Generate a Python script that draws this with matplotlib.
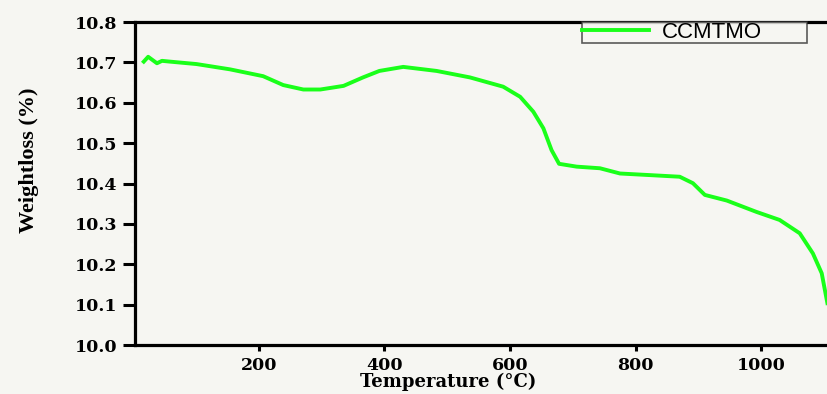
import matplotlib
matplotlib.use('Agg')
import matplotlib.pyplot as plt

# data
temperature = [17, 24, 38, 46, 59, 101, 154, 207, 239, 271, 298, 335, 366, 392,
               430, 483, 536, 589, 616, 637, 653, 666, 678, 706, 743, 775, 823,
               870, 891, 910, 945, 992, 1029, 1061, 1082, 1096, 1105]
weight = [10.702, 10.714, 10.698, 10.704, 10.702, 10.696, 10.683, 10.666, 10.644,
          10.633, 10.633, 10.642, 10.663, 10.679, 10.689, 10.679, 10.663, 10.640,
          10.615, 10.578, 10.537, 10.483, 10.449, 10.442, 10.438, 10.425, 10.421,
          10.417, 10.401, 10.372, 10.358, 10.330, 10.310, 10.277, 10.227, 10.178,
          10.104]
series_name = 'CCMTMO'
xticks = [200, 400, 600, 800, 1000]
yticks = [10.0, 10.1, 10.2, 10.3, 10.4, 10.5, 10.6, 10.7, 10.8]

bg = '#f6f6f2'
fig = plt.figure(figsize=(8.28, 3.94), dpi=100, facecolor=bg)
ax = fig.add_axes([0.163, 0.124, 0.837, 0.820], facecolor=bg)

ax.plot(temperature, weight, color='#1aff1a', lw=2.8, label=series_name)

ax.set_xlim(3, 1106)
ax.set_ylim(10.0, 10.8)
ax.set_xticks(xticks)
ax.set_yticks(yticks)
ax.set_yticklabels(['%.1f' % v for v in yticks])

for side in ['left', 'bottom', 'top']:
    ax.spines[side].set_linewidth(2.3)
ax.spines['right'].set_visible(False)

ax.tick_params(axis='y', direction='out', length=8.5, width=2.2, pad=4)
ax.tick_params(axis='x', direction='out', length=4.5, width=2.2, pad=4)
for lab in ax.get_xticklabels() + ax.get_yticklabels():
    lab.set_fontfamily('DejaVu Serif')
    lab.set_fontweight('bold')
    lab.set_fontsize(12.5)

ax.set_xlabel('Temperature (°C)', fontfamily='DejaVu Serif', fontweight='bold',
              fontsize=13)
ax.xaxis.set_label_coords(0.452, -0.085)
ax.set_ylabel('Weightloss (%)', fontfamily='Liberation Serif', fontweight='bold',
              fontsize=16)
ax.yaxis.set_label_coords(-0.138, 0.573)

leg = ax.legend(loc='upper left', bbox_to_anchor=(0.645, 1.0, 0.325, 0.0),
                mode='expand', frameon=True, fancybox=False, handlelength=3.0,
                prop={'family': 'Liberation Sans', 'size': 16},
                borderpad=0.0, borderaxespad=0.0, handletextpad=0.6)
leg.get_frame().set_edgecolor('#333333')
leg.get_frame().set_linewidth(1.2)
leg.get_frame().set_facecolor(bg)

fig.savefig('out.png', dpi=100, facecolor=bg)
